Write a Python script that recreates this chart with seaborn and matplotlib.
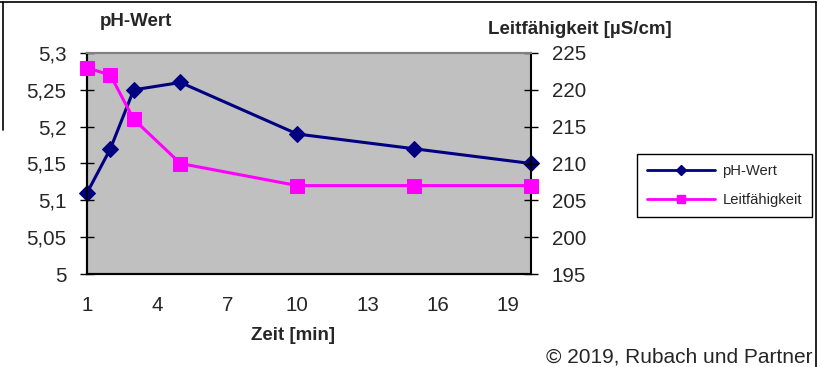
import matplotlib
matplotlib.use("Agg")
import matplotlib.pyplot as plt
import seaborn as sns
import pandas as pd
from matplotlib.lines import Line2D

zeit = [1, 2, 3, 5, 10, 15, 20]
ph_wert = [5.11, 5.17, 5.25, 5.26, 5.19, 5.17, 5.15]
leitfaehigkeit = [223, 222, 216, 210, 207, 207, 207]
x_ticks = [1, 4, 7, 10, 13, 16, 19]
y1_ticks = [5, 5.05, 5.1, 5.15, 5.2, 5.25, 5.3]
y1_labels = ["5", "5,05", "5,1", "5,15", "5,2", "5,25", "5,3"]
y2_ticks = [195, 200, 205, 210, 215, 220, 225]

df = pd.DataFrame({"Zeit": zeit, "pH": ph_wert, "LF": leitfaehigkeit})

sns.set_style("white")
plt.rcParams['font.family'] = ['Liberation Sans', 'DejaVu Sans']

fig = plt.figure(figsize=(8.2, 3.67), dpi=100)
ax = fig.add_axes([87/820, 1-274/367, 444/820, 221/367])
ax.set_facecolor("#C0C0C0")
ax2 = ax.twinx()

navy = "#000080"
mag = "#FF00FF"
sns.lineplot(data=df, x="Zeit", y="pH", ax=ax, color=navy, lw=2.2,
             marker="D", markersize=8, markeredgecolor=navy, clip_on=False, zorder=3)
sns.lineplot(data=df, x="Zeit", y="LF", ax=ax2, color=mag, lw=2.2,
             marker="s", markersize=10, markeredgecolor=mag, clip_on=False, zorder=3)

fs = 14.8
ax.set_xlim(1, 20)
ax.set_ylim(5, 5.3)
ax2.set_ylim(195, 225)
ax.set_xticks(x_ticks)
ax.set_xticklabels([str(t) for t in x_ticks], fontsize=fs)
ax.set_yticks(y1_ticks)
ax.set_yticklabels(y1_labels, fontsize=fs)
ax2.set_yticks(y2_ticks)
ax2.set_yticklabels([str(t) for t in y2_ticks], fontsize=fs)
ax.tick_params(axis="y", direction="inout", length=10, width=1, color="black", pad=10)
ax.tick_params(axis="x", direction="inout", length=10, width=1, color="black", pad=11)
ax2.tick_params(axis="y", direction="inout", length=10, width=1, color="black", pad=10)
ax.set_xlabel("")
ax.set_ylabel("")
ax2.set_ylabel("")

for a in (ax, ax2):
    for s in a.spines.values():
        s.set_visible(True)
        s.set_color("black")
        s.set_linewidth(1.5)
    a.spines["top"].set_color("#808080")
ax.spines["right"].set_visible(False)

fig.text(136/820, 1-21/367, "pH-Wert", fontsize=13.5, fontweight="bold", ha="center", va="center")
fig.text(488/820, 1-29/367, "Leitfähigkeit [µS/cm]", fontsize=13.5, fontweight="bold", ha="left", va="center")
fig.text(293/820, 1-335/367, "Zeit [min]", fontsize=13.5, fontweight="bold", ha="center", va="center")
fig.text(813/820, 1-357/367, "© 2019, Rubach und Partner", fontsize=15, ha="right", va="center")

handles = [Line2D([], [], color=navy, lw=2, marker="D", markersize=5),
           Line2D([], [], color=mag, lw=2, marker="s", markersize=6)]
leg = fig.legend(handles, ["pH-Wert", "Leitfähigkeit"], loc="upper left",
                 bbox_to_anchor=(637/820, 1-154/367), fontsize=10.6, frameon=True,
                 fancybox=False, edgecolor="black", framealpha=1,
                 borderpad=0.7, labelspacing=1.0, handlelength=4.6, handletextpad=0.5,
                 borderaxespad=0)
leg.get_frame().set_linewidth(1)

# outer frame lines
fig.add_artist(Line2D([0, 816/820], [1-1.5/367, 1-1.5/367], color="black", lw=1.2, transform=fig.transFigure))
fig.add_artist(Line2D([816/820, 816/820], [1-1.5/367, 0], color="black", lw=1.2, transform=fig.transFigure))
fig.add_artist(Line2D([3/820, 3/820], [1-1.5/367, 1-130/367], color="black", lw=1.2, transform=fig.transFigure))

fig.savefig("out.png", dpi=100)
